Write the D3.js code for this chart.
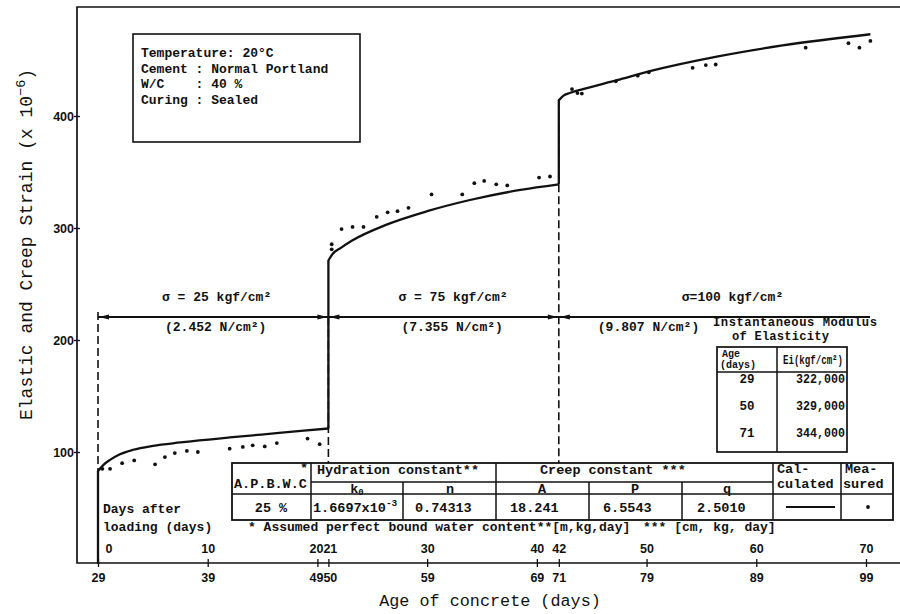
<!DOCTYPE html>
<html>
<head>
<meta charset="utf-8">
<script src="https://cdn.jsdelivr.net/npm/d3@7"></script>
<style>
  body { margin: 0; background: #fff; }
  svg { display: block; }
  .mono { font-family: "Liberation Mono", "Courier New", monospace; font-weight: bold; fill: #111; white-space: pre; }
  .title { font-family: "Liberation Mono", "Courier New", monospace; font-weight: normal; fill: #111; white-space: pre; }
</style>
</head>
<body>
<svg id="chart" width="900" height="614"></svg>
<script>
// ---- Data -------------------------------------------------------------
// Loading ages (days) and applied stresses
const loadAges = [29, 50, 71];
const stressLabels = ["σ = 25 kgf/cm²", "σ = 75 kgf/cm²", "σ=100 kgf/cm²"];
const stressSI = ["(2.452 N/cm²)", "(7.355 N/cm²)", "(9.807 N/cm²)"];

// Calculated elastic + creep strain (x 1e-6), one curve per loading stage
const calcAge1 = [29, 29.5, 30.1, 31, 32.2, 34, 36.5, 41, 45.5, 50];
const calcStrain1 = [83, 88.5, 93, 98, 102, 105.5, 108.5, 113, 117, 121];
const calcAge2 = [50, 50.4, 51.1, 52.2, 55.3, 59, 62.9, 67.5, 71];
const calcStrain2 = [271, 277, 282, 289, 303, 315, 325, 334, 339];
const calcAge3 = [71, 71.4, 72, 73.2, 76.3, 79.3, 85.4, 91.4, 99.4];
const calcStrain3 = [414, 418, 420.5, 424, 432, 440, 453, 463, 473];

// Measured strain
const measAge = [29.4, 30.1, 31.2, 32.3, 34.2, 35.1, 36.0, 37.1, 38.1, 41.0, 42.2, 43.1, 44.2, 45.3, 48.1, 49.2,
                 50.3, 50.3, 51.2, 52.2, 53.2, 54.4, 55.4, 56.3, 57.3, 59.4, 62.2, 63.3, 64.2, 65.3, 66.3, 69.2, 70.2,
                 72.2, 72.7, 73.1, 76.2, 78.2, 79.2, 83.2, 84.4, 85.3, 93.5, 97.4, 98.4, 99.4];
const measStrain = [85, 85, 90, 92.5, 89, 95.5, 99, 101, 100, 103, 104.5, 106, 105, 108, 112, 107,
                    285.5, 281, 299, 301, 301, 310, 314, 315, 318, 330, 330, 340, 342, 339, 338, 345, 346,
                    424, 420.5, 420, 431, 436, 439, 443, 445.5, 446, 461, 465, 461, 467];

// Axis ticks
const yTicks = [100, 200, 300, 400];
const ageTicks = [29, 39, 49, 50, 59, 69, 71, 79, 89, 99];
const dayTicks = [0, 10, 20, 21, 30, 40, 42, 50, 60, 70];

// Table contents
const infoLines = ["Temperature: 20°C", "Cement : Normal Portland", "W/C    : 40 %", "Curing : Sealed"];
const modAges = ["29", "50", "71"];
const modValues = ["322,000", "329,000", "344,000"];

// ---- Layout -----------------------------------------------------------
const svg = d3.select("#chart");
const frameL = 77, frameT = 7, frameB = 563, frameR = 900;
const x = d3.scaleLinear().domain([29, 99]).range([98, 866]);
const y = d3.scaleLinear().domain([0, 400]).range([564, 116]);
const xDays = d3.scaleLinear().domain([0, 70]).range([x(29), x(99)]);
const ink = "#111";
const tickFont = '"Liberation Sans", Arial, sans-serif';

// frame: top, left and bottom lines
svg.append("path")
  .attr("d", `M${frameR},${frameT}H${frameL}V${frameB}H${frameR}`)
  .attr("fill", "none").attr("stroke", ink).attr("stroke-width", 1.7);

// y axis
const gy = svg.append("g").attr("transform", `translate(${frameL},0)`)
  .call(d3.axisLeft(y).tickValues(yTicks).tickSize(3).tickPadding(0));
gy.select(".domain").remove();
gy.attr("font-family", tickFont).attr("font-size", 12.5).attr("font-weight", "bold");
gy.selectAll(".tick line").attr("x1", 3).attr("stroke", ink).attr("stroke-width", 1.3);
gy.selectAll(".tick text").attr("fill", ink);

// bottom axis: age of concrete
const gx = svg.append("g").attr("transform", `translate(0,${frameB})`)
  .call(d3.axisBottom(x).tickValues(ageTicks).tickSize(4).tickPadding(6));
gx.select(".domain").remove();
gx.attr("font-family", tickFont).attr("font-size", 12.5).attr("font-weight", "bold");
gx.selectAll(".tick line").attr("stroke", ink).attr("stroke-width", 1.3);
gx.selectAll(".tick text").attr("fill", ink);

// top side of the same axis: days after first loading
const gd = svg.append("g").attr("transform", `translate(0,${frameB})`)
  .call(d3.axisTop(xDays).tickValues(dayTicks).tickSize(4).tickPadding(6));
gd.select(".domain").remove();
gd.attr("font-family", tickFont).attr("font-size", 12.5).attr("font-weight", "bold");
gd.selectAll(".tick line").attr("stroke", ink).attr("stroke-width", 1.3);
gd.selectAll(".tick text").attr("fill", ink);

// adjacent tick pairs share one label slot
function joinPair(g, scale, a, b) {
  const half = (scale(b) - scale(a)) / 2;
  g.selectAll(".tick").filter(d => d === a).select("text").attr("text-anchor", "end").attr("x", half);
  g.selectAll(".tick").filter(d => d === b).select("text").attr("text-anchor", "start").attr("x", -half);
}
joinPair(gx, x, 49, 50);
joinPair(gd, xDays, 20, 21);
gd.selectAll(".tick").filter(d => d === 0).select("text").attr("text-anchor", "start").attr("x", 7);

// axis titles
svg.append("text").attr("class", "title")
  .attr("x", 490).attr("y", 606).attr("text-anchor", "middle").attr("font-size", 16.8)
  .text("Age of concrete (days)");
const yt = svg.append("text").attr("class", "title")
  .attr("transform", "translate(32,420) rotate(-90)")
  .attr("text-anchor", "start").attr("font-size", 18);
yt.append("tspan").text("Elastic and Creep Strain (x 10");
yt.append("tspan").attr("dy", -7).attr("font-size", 13.5).text("−6");
yt.append("tspan").attr("dy", 7).text(")");

// ---- Loading boundaries and stress arrows -----------------------------
const tableTop = 463;
const dashStyle = g => g.attr("stroke", ink).attr("stroke-width", 1.6).attr("stroke-dasharray", "8,4").attr("fill", "none");
svg.append("line").attr("x1", x(29)).attr("x2", x(29)).attr("y1", 312).attr("y2", frameB).call(dashStyle);
svg.append("line").attr("x1", x(50)).attr("x2", x(50)).attr("y1", 317).attr("y2", tableTop).call(dashStyle);
svg.append("line").attr("x1", x(71)).attr("x2", x(71)).attr("y1", y(calcStrain3[0])).attr("y2", tableTop).call(dashStyle);

const arrowY = 317;
svg.append("line").attr("x1", x(29)).attr("x2", 870).attr("y1", arrowY).attr("y2", arrowY)
  .attr("stroke", ink).attr("stroke-width", 1.8);
function arrowHead(tipX, dir) {
  svg.append("path")
    .attr("d", `M${tipX},${arrowY}L${tipX - dir * 10},${arrowY - 2.6}L${tipX - dir * 10},${arrowY + 2.6}Z`)
    .attr("fill", ink);
}
arrowHead(x(29) + 1, -1);
arrowHead(x(50) - 1, 1);
arrowHead(x(50) + 1, -1);
arrowHead(x(71) - 1, 1);
arrowHead(x(71) + 1, -1);

const stressPos = [[x(29) + 64, x(29) + 67], [x(50) + 70, x(50) + 73], [x(71) + 123, x(71) + 39]];
stressLabels.forEach((s, i) => {
  svg.append("text").attr("class", "mono").attr("font-size", 13)
    .attr("x", stressPos[i][0]).attr("y", 301).text(s);
  svg.append("text").attr("class", "mono").attr("font-size", 13)
    .attr("x", stressPos[i][1]).attr("y", 331).text(stressSI[i]);
});

// ---- Calculated curves ------------------------------------------------
const curveLine = d3.line().x(d => x(d[0])).y(d => y(d[1])).curve(d3.curveMonotoneX);
const jumpLine = d3.line().x(d => x(d[0])).y(d => y(d[1]));
const stages = [[calcAge1, calcStrain1], [calcAge2, calcStrain2], [calcAge3, calcStrain3]];
let base = 0;
stages.forEach(([ages, strains]) => {
  const pts = ages.map((a, i) => [a, strains[i]]);
  const d = jumpLine([[ages[0], base], pts[0]]) + curveLine(pts).replace(/^M/, "L");
  svg.append("path").attr("d", d).attr("fill", "none")
    .attr("stroke", ink).attr("stroke-width", 2.3).attr("stroke-linejoin", "round");
  base = strains[strains.length - 1];
});

// ---- Measured points --------------------------------------------------
svg.append("g").selectAll("circle")
  .data(measAge.map((a, i) => [a, measStrain[i]]))
  .join("circle")
  .attr("cx", d => x(d[0])).attr("cy", d => y(d[1])).attr("r", 1.9).attr("fill", ink);

// ---- Condition box ----------------------------------------------------
svg.append("rect").attr("x", 133).attr("y", 34).attr("width", 227).attr("height", 108)
  .attr("fill", "#fff").attr("stroke", ink).attr("stroke-width", 1.6);
infoLines.forEach((t, i) => {
  svg.append("text").attr("class", "mono").attr("font-size", 13)
    .attr("x", 141).attr("y", 57 + i * 15.5).text(t);
});

// ---- Modulus of elasticity table --------------------------------------
svg.append("text").attr("class", "mono").attr("font-size", 12.2).attr("x", 713).attr("y", 326)
  .attr("textLength", 164).text("Instantaneous Modulus");
svg.append("text").attr("class", "mono").attr("font-size", 12.2).attr("x", 732).attr("y", 340)
  .attr("textLength", 97).text("of Elasticity");
svg.append("rect").attr("x", 717).attr("y", 347).attr("width", 130).attr("height", 105)
  .attr("fill", "#fff").attr("stroke", ink).attr("stroke-width", 1.7);
const tl = (x1, y1, x2, y2, w) => svg.append("line").attr("x1", x1).attr("y1", y1).attr("x2", x2).attr("y2", y2)
  .attr("stroke", ink).attr("stroke-width", w || 1.5);
tl(717, 372, 847, 372);
tl(777, 347, 777, 452);
svg.append("text").attr("class", "mono").attr("font-size", 10).attr("x", 722).attr("y", 357).text("Age");
svg.append("text").attr("class", "mono").attr("font-size", 10).attr("x", 720).attr("y", 368).text("(days)");
svg.append("text").attr("class", "mono").attr("font-size", 12).attr("x", 783).attr("y", 364)
  .attr("textLength", 60).attr("lengthAdjust", "spacingAndGlyphs").text("Ei(kgf/cm²)");
modAges.forEach((a, i) => {
  svg.append("text").attr("class", "mono").attr("font-size", 12.5).attr("x", 747).attr("y", 383 + i * 27)
    .attr("text-anchor", "middle").text(a);
  svg.append("text").attr("class", "mono").attr("font-size", 12.5).attr("x", 796).attr("y", 383 + i * 27)
    .attr("textLength", 49).attr("lengthAdjust", "spacingAndGlyphs").text(modValues[i]);
});

// ---- Constants table --------------------------------------------------
const tT = 463, tS = 482, tD = 494, tB = 520;
svg.append("rect").attr("x", 232).attr("y", tT).attr("width", 661).attr("height", tB - tT)
  .attr("fill", "#fff").attr("stroke", ink).attr("stroke-width", 1.8);
tl(311, tS, 773, tS);
tl(232, tD, 893, tD);
[311, 496, 773, 841].forEach(cx => tl(cx, tT, cx, tB));
[403, 589, 682].forEach(cx => tl(cx, tS, cx, tB));

const txt = (s, px, py, size, anchor) => svg.append("text").attr("class", "mono")
  .attr("font-size", size || 13.5).attr("x", px).attr("y", py).attr("text-anchor", anchor || "start").text(s);
txt("*", 300, 472);
txt("A.P.B.W.C", 234, 488);
txt("Hydration constant**", 317, 474);
txt("Creep constant ***", 540, 474);
txt("Cal-", 777, 473);
txt("culated", 777, 488);
txt("Mea-", 845, 473);
txt("sured", 843, 488);
const k0 = txt("k", 357, 493, 13.5, "middle");
k0.append("tspan").attr("font-size", 9).attr("dy", 2).text("0");
txt("n", 450, 493, 13.5, "middle");
txt("A", 542, 493, 13.5, "middle");
txt("P", 635, 493, 13.5, "middle");
txt("q", 727, 493, 13.5, "middle");
txt("25 %", 271, 512, 13.5, "middle");
const kv = txt("1.6697x10", 313, 512);
kv.append("tspan").attr("font-size", 9.5).attr("dy", -6).text("-3");
txt("0.74313", 415, 512);
txt("18.241", 510, 512);
txt("6.5543", 603, 512);
txt("2.5010", 697, 512);
tl(786, 507, 835, 507, 1.8);
svg.append("circle").attr("cx", 868).attr("cy", 507).attr("r", 1.9).attr("fill", ink);

txt("* Assumed perfect bound water content**[m,kg,day]", 248, 531, 13);
txt("*** [cm, kg, day]", 643, 531, 13);
txt("Days after", 103, 513, 13);
txt("loading (days)", 103, 531, 13);
</script>
</body>
</html>
